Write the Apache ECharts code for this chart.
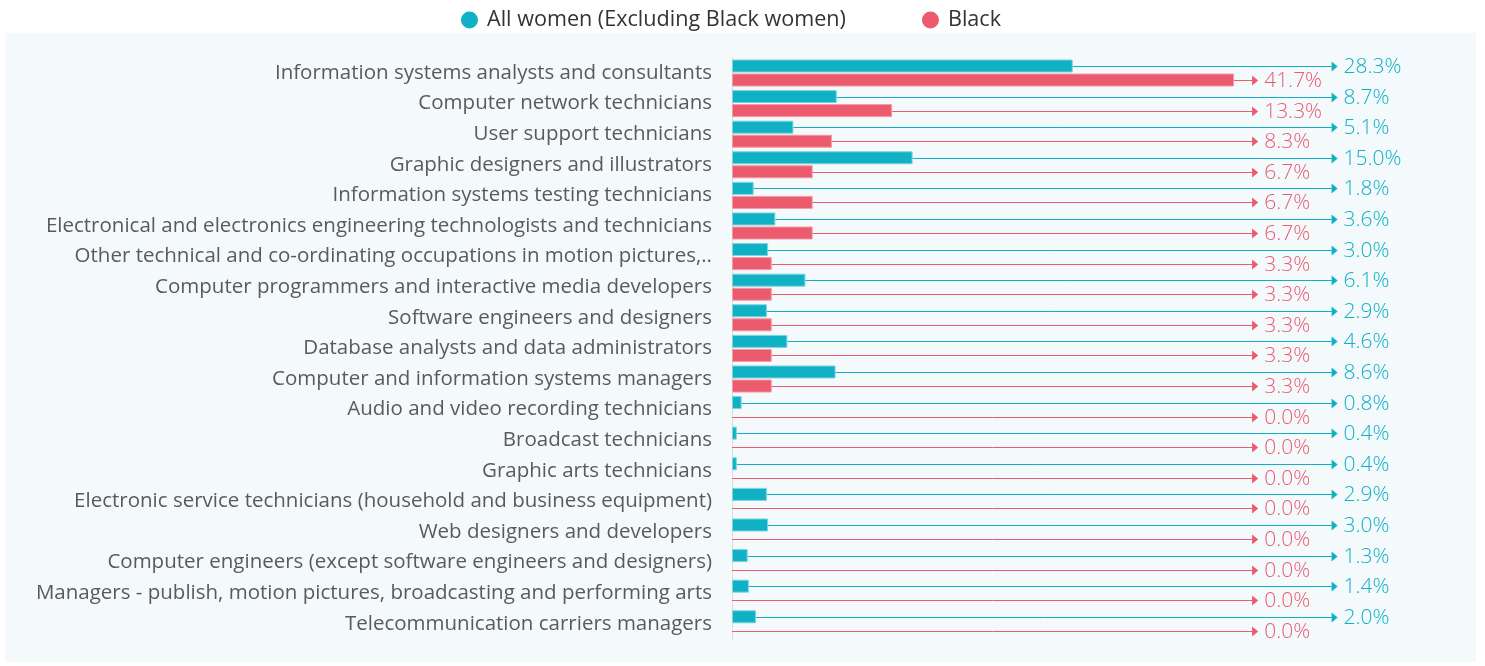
<!DOCTYPE html>
<html>
<head>
<meta charset="utf-8">
<script src="https://cdn.jsdelivr.net/npm/echarts@6/dist/echarts.min.js"></script>
<style>
  html, body { margin: 0; padding: 0; background: #ffffff; }
  #chart { width: 1485px; height: 666px; }
</style>
</head>
<body>
<div id="chart"></div>
<script>
const categories = [
  'Information systems analysts and consultants',
  'Computer network technicians',
  'User support technicians',
  'Graphic designers and illustrators',
  'Information systems testing technicians',
  'Electronical and electronics engineering technologists and technicians',
  'Other technical and co-ordinating occupations in motion pictures,..',
  'Computer programmers and interactive media developers',
  'Software engineers and designers',
  'Database analysts and data administrators',
  'Computer and information systems managers',
  'Audio and video recording technicians',
  'Broadcast technicians',
  'Graphic arts technicians',
  'Electronic service technicians (household and business equipment)',
  'Web designers and developers',
  'Computer engineers (except software engineers and designers)',
  'Managers - publish, motion pictures, broadcasting and performing arts',
  'Telecommunication carriers managers'
];
const allWomen = [28.3, 8.7, 5.1, 15.0, 1.8, 3.6, 3.0, 6.1, 2.9, 4.6, 8.6, 0.8, 0.4, 0.4, 2.9, 3.0, 1.3, 1.4, 2.0];
const black    = [41.7, 13.3, 8.3, 6.7, 6.7, 6.7, 3.3, 3.3, 3.3, 3.3, 3.3, 0.0, 0.0, 0.0, 0.0, 0.0, 0.0, 0.0, 0.0];
const seriesNames = ['All women (Excluding Black women)', 'Black'];

const TEAL = '#10B1C4';
const RED = '#EC5A6D';
const FONT = "'Open Sans', 'Noto Sans', 'DejaVu Sans', sans-serif";

// fit font sizes to the reference's measured text widths
const mctx = document.createElement('canvas').getContext('2d');
function fitSize(text, weight, target) {
  mctx.font = weight + ' 100px ' + FONT;
  return Math.round(100 * target / mctx.measureText(text).width * 10) / 10;
}
const catSize = fitSize('Information systems analysts and consultants', 400, 437);
const legSize = fitSize('All women (Excluding Black women)', 400, 359);
const valSize = fitSize('28.3%', 300, 58);

// layout constants (x-axis values where the leader arrows end)
const TEAL_TIP = 50.3;
const RED_TIP = 43.7;
const HALF = 7;

const chart = echarts.init(document.getElementById('chart'), null, { renderer: 'canvas' });

function renderLeaders(params, api) {
  const i = api.value(1);
  const base = api.coord([0, i]);
  const children = [];
  const defs = [
    { v: allWomen[i], dy: -HALF, tip: TEAL_TIP, color: TEAL },
    { v: black[i], dy: HALF, tip: RED_TIP, color: RED }
  ];
  defs.forEach(d => {
    const y = Math.round(base[1] + d.dy) + 0.5;
    const x0 = api.coord([d.v, i])[0];
    const xt = api.coord([d.tip, i])[0];
    children.push({
      type: 'line',
      shape: { x1: x0, y1: y, x2: xt - 5, y2: y },
      style: { stroke: d.color, lineWidth: 1 }
    });
    children.push({
      type: 'polygon',
      shape: { points: [[xt - 6, y - 5], [xt, y], [xt - 6, y + 5]] },
      style: { fill: d.color }
    });
    children.push({
      type: 'text',
      style: {
        x: xt + 6, y: y + 1,
        text: d.v.toFixed(1) + '%',
        fill: d.color,
        fontSize: valSize,
        fontFamily: FONT,
        fontWeight: 300,
        align: 'left',
        verticalAlign: 'middle'
      }
    });
  });
  return { type: 'group', children: children };
}

function barData(values, border) {
  return values.map(v => ({
    value: v,
    itemStyle: v === 0 ? { borderWidth: 0, opacity: 0 } : { borderColor: border, borderWidth: 1 }
  }));
}

const option = {
  animation: false,
  graphic: [{
    type: 'rect',
    left: 5, top: 33,
    z: -10,
    silent: true,
    shape: { width: 1471, height: 629 },
    style: { fill: '#F4F9FC' }
  }],
  legend: {
    data: seriesNames,
    left: 456,
    top: 4,
    icon: 'circle',
    itemWidth: 17,
    itemHeight: 17,
    itemGap: 76,
    textStyle: { fontSize: legSize, fontFamily: FONT, color: '#333333', padding: [0, 0, 0, 4] }
  },
  grid: { left: 732, top: 57.7, width: 602, height: 581.4, containLabel: false },
  xAxis: { type: 'value', min: 0, max: 50, show: false },
  yAxis: {
    type: 'category',
    data: categories,
    inverse: true,
    axisLine: { show: true, lineStyle: { color: '#DADADA', width: 1 } },
    axisTick: { show: false },
    splitLine: { show: false },
    axisLabel: {
      margin: 20,
      fontSize: catSize,
      fontFamily: FONT,
      color: '#5A5A5A'
    }
  },
  series: [
    {
      name: seriesNames[0], type: 'bar', data: barData(allWomen, '#7FD3DE'),
      barWidth: 13, barGap: '8%',
      itemStyle: { color: TEAL }
    },
    {
      name: seriesNames[1], type: 'bar', data: barData(black, '#F39AA5'),
      barWidth: 13,
      itemStyle: { color: RED }
    },
    {
      name: 'leaders', type: 'custom',
      data: categories.map((c, i) => [0, i]),
      encode: { x: 0, y: 1 },
      renderItem: renderLeaders,
      silent: true,
      z: 5
    }
  ]
};
chart.setOption(option);
</script>
</body>
</html>
